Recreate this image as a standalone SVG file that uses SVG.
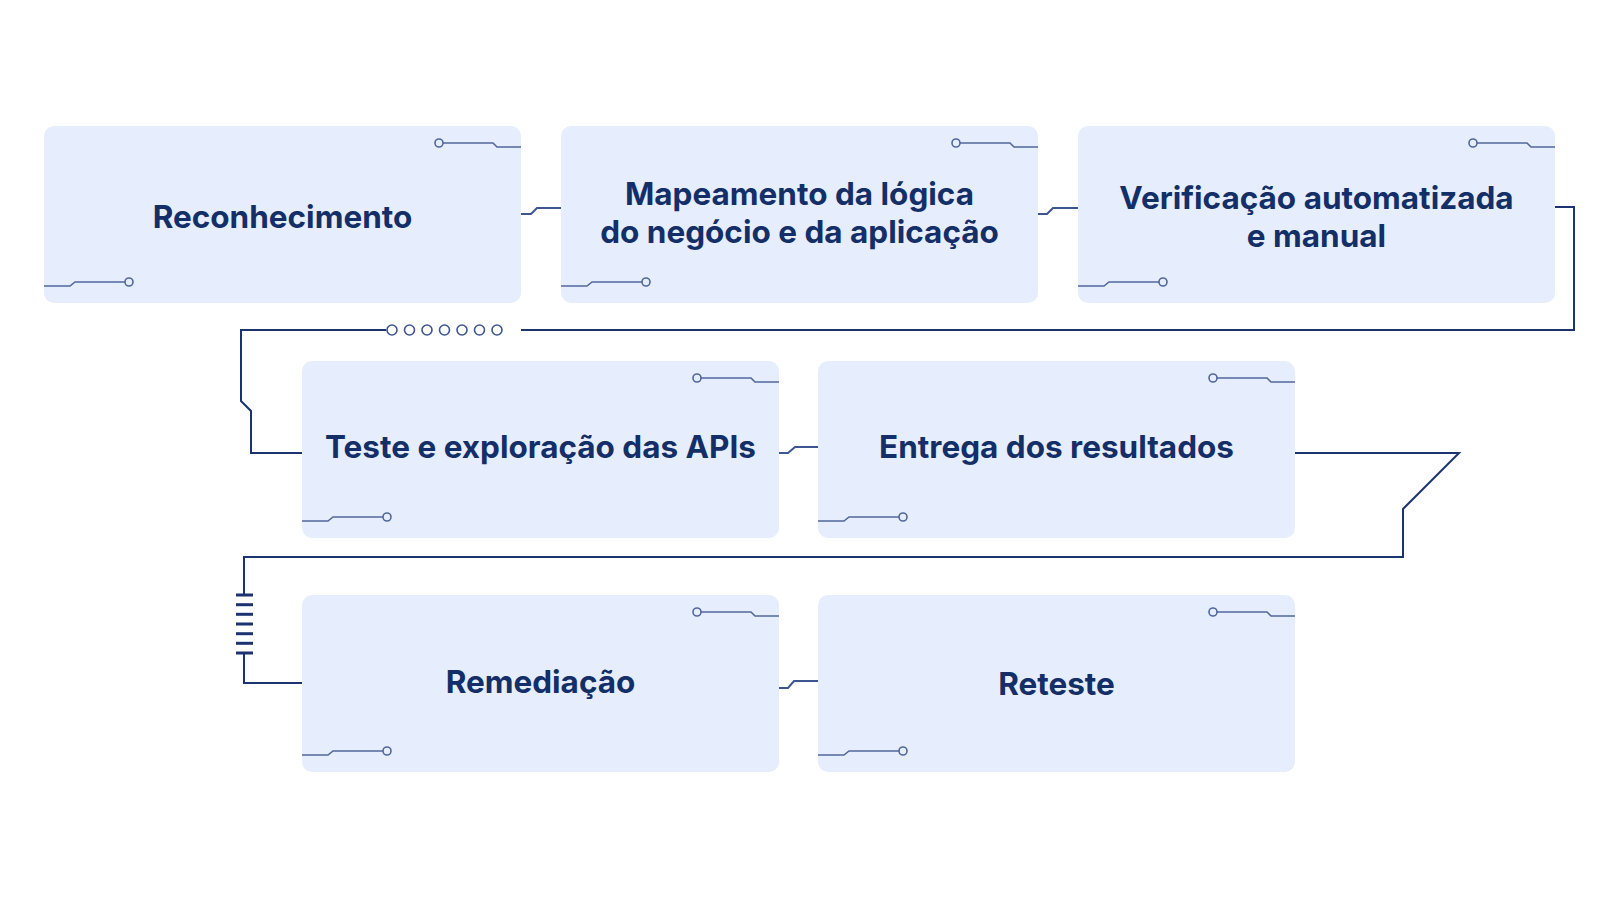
<svg xmlns="http://www.w3.org/2000/svg" xmlns:xlink="http://www.w3.org/1999/xlink" width="1600" height="900" viewBox="0 0 1600 900">
<style>
.box{fill:#e6edfd;}
.lbl{font-family:Inter,"Liberation Sans",sans-serif;font-weight:700;font-size:31.5px;fill:#142f68;text-anchor:middle;}
.deco{fill:none;stroke:#51679b;stroke-width:1.6;}
.dcirc{fill:#e6edfd;stroke:#51679b;stroke-width:1.6;}
.link{fill:none;stroke:#3d5692;stroke-width:2;}
.wire{fill:none;stroke:#1b3370;stroke-width:2;}
.bead{fill:#ffffff;stroke:#3d5692;stroke-width:1.6;}
.bar{stroke:#1b3370;stroke-width:3;}
</style>
<defs>
<g id="deco">
<path class="deco" d="M399 17 H449 L453 21 H477"/>
<circle class="dcirc" cx="395" cy="17" r="4"/>
<path class="deco" d="M0 160 H26 L31 156 H81"/>
<circle class="dcirc" cx="85" cy="156" r="4"/>
</g>
</defs>
<rect width="1600" height="900" fill="#ffffff"/>

<g id="n1">
<rect class="box" x="44" y="126" width="477" height="177" rx="10"/>
<use xlink:href="#deco" transform="translate(44,126)"/>
<text class="lbl" x="282.5" y="228">Reconhecimento</text>
</g>
<g id="n2">
<rect class="box" x="561" y="126" width="477" height="177" rx="10"/>
<use xlink:href="#deco" transform="translate(561,126)"/>
<text class="lbl" x="799.5" y="205">Mapeamento da lógica</text>
<text class="lbl" x="799.5" y="243">do negócio e da aplicação</text>
</g>
<g id="n3">
<rect class="box" x="1078" y="126" width="477" height="177" rx="10"/>
<use xlink:href="#deco" transform="translate(1078,126)"/>
<text class="lbl" x="1316.5" y="209">Verificação automatizada</text>
<text class="lbl" x="1316.5" y="247">e manual</text>
</g>
<g id="n4">
<rect class="box" x="302" y="361" width="477" height="177" rx="10"/>
<use xlink:href="#deco" transform="translate(302,361)"/>
<text class="lbl" x="540.5" y="458">Teste e exploração das APIs</text>
</g>
<g id="n5">
<rect class="box" x="818" y="361" width="477" height="177" rx="10"/>
<use xlink:href="#deco" transform="translate(818,361)"/>
<text class="lbl" x="1056.5" y="458">Entrega dos resultados</text>
</g>
<g id="n6">
<rect class="box" x="302" y="595" width="477" height="177" rx="10"/>
<use xlink:href="#deco" transform="translate(302,595)"/>
<text class="lbl" x="540.5" y="693">Remediação</text>
</g>
<g id="n7">
<rect class="box" x="818" y="595" width="477" height="177" rx="10"/>
<use xlink:href="#deco" transform="translate(818,595)"/>
<text class="lbl" x="1056.5" y="695">Reteste</text>
</g>

<g id="connectors">
<path class="link" d="M521 214 H531 L537 208 H561"/>
<path class="link" d="M1038 214 H1047 L1053 208 H1078"/>
<path class="link" d="M779 453 H788 L795 447 H818"/>
<path class="link" d="M779 688 H788 L794 681 H818"/>

<path class="wire" d="M1555 207 H1574 V330 H521"/>
<path class="wire" d="M386 330 H241 V401 L251 411 V453 H302"/>
<circle class="bead" cx="392" cy="330" r="5"/>
<circle class="bead" cx="409.5" cy="330" r="5"/>
<circle class="bead" cx="427" cy="330" r="5"/>
<circle class="bead" cx="444.5" cy="330" r="5"/>
<circle class="bead" cx="462" cy="330" r="5"/>
<circle class="bead" cx="479.5" cy="330" r="5"/>
<circle class="bead" cx="497" cy="330" r="5"/>

<path class="wire" d="M1295 453 H1459 L1403 509 V557 H244 V595"/>
<path class="wire" d="M244 653 V683 H302"/>
<line class="bar" x1="236" y1="595" x2="253" y2="595"/>
<line class="bar" x1="236" y1="604.7" x2="253" y2="604.7"/>
<line class="bar" x1="236" y1="614.3" x2="253" y2="614.3"/>
<line class="bar" x1="236" y1="624" x2="253" y2="624"/>
<line class="bar" x1="236" y1="633.7" x2="253" y2="633.7"/>
<line class="bar" x1="236" y1="643.3" x2="253" y2="643.3"/>
<line class="bar" x1="236" y1="653" x2="253" y2="653"/>
</g>
</svg>
